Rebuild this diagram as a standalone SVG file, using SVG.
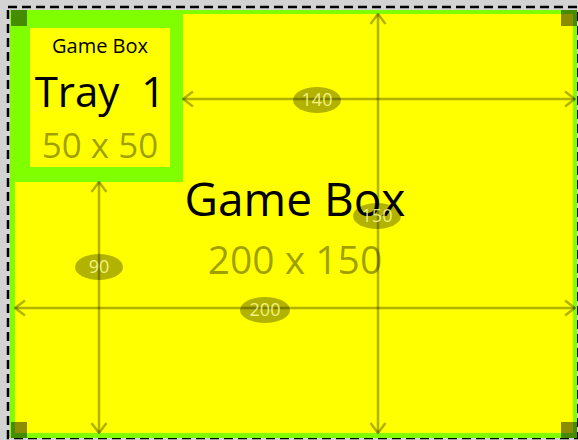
<svg xmlns="http://www.w3.org/2000/svg" width="578" height="440" viewBox="0 0 578 440">
<style>
.dim{stroke:#000;stroke-opacity:0.3;stroke-width:2.5;fill:none}
.lbl{fill:#000;fill-opacity:0.3}
.lt{font-family:"Open Sans","Noto Sans",sans-serif;font-size:18px;fill:#ffff99;fill-opacity:0.85;text-anchor:middle}
.t{font-family:"Open Sans","Noto Sans",sans-serif;text-anchor:middle}
.corner{fill:#000;fill-opacity:0.45}
</style>
<defs>
<marker id="ah" viewBox="0 0 12 18" refX="11" refY="9" markerWidth="12" markerHeight="18" markerUnits="userSpaceOnUse" orient="auto-start-reverse">
<path d="M1,1.5 L11,9 L1,16.5" fill="none" stroke="#000" stroke-opacity="0.3" stroke-width="2.5"/>
</marker>
</defs>
<rect width="578" height="440" fill="#d3d3d3"/>
<g id="gamebox">
<rect x="8" y="7" width="569" height="431" fill="none" stroke="#000" stroke-width="2.5" stroke-dasharray="9,5"/>
<rect x="10" y="10" width="567" height="428" fill="#7fff00"/>
<rect x="15" y="14" width="558" height="419" fill="#ffff00"/>
<text class="t" x="295" y="216" font-size="46" fill="#000">Game Box</text>
<text class="t" x="295" y="274" font-size="39" fill="#000" fill-opacity="0.38">200 x 150</text>
</g>
<g id="tray1">
<rect x="10" y="10" width="173" height="172" fill="#7fff00"/>
<rect x="30" y="28" width="140" height="139" fill="#ffff00"/>
<text class="t" x="100" y="53" font-size="20" fill="#000">Game Box</text>
<text class="t" x="100" y="107" font-size="42" fill="#000" xml:space="preserve">Tray  1</text>
<text class="t" x="100" y="158" font-size="35" fill="#000" fill-opacity="0.38">50 x 50</text>
</g>
<g id="corners">
<rect class="corner" x="11" y="10" width="16" height="16"/>
<rect class="corner" x="561" y="10" width="16" height="16"/>
<rect class="corner" x="11" y="422" width="16" height="16"/>
<rect class="corner" x="561" y="422" width="16" height="16"/>
</g>
<g id="connectors">
<line class="dim" x1="183" y1="99" x2="575" y2="99" marker-start="url(#ah)" marker-end="url(#ah)"/>
<line class="dim" x1="378" y1="14" x2="378" y2="433" marker-start="url(#ah)" marker-end="url(#ah)"/>
<line class="dim" x1="15" y1="308" x2="575" y2="308" marker-start="url(#ah)" marker-end="url(#ah)"/>
<line class="dim" x1="99" y1="182" x2="99" y2="433" marker-start="url(#ah)" marker-end="url(#ah)"/>
<ellipse class="lbl" cx="317" cy="100" rx="24" ry="13"/>
<text class="lt" x="317" y="106">140</text>
<ellipse class="lbl" cx="377" cy="216" rx="24" ry="13"/>
<text class="lt" x="377" y="222">150</text>
<ellipse class="lbl" cx="265" cy="310" rx="25" ry="13"/>
<text class="lt" x="265" y="316">200</text>
<ellipse class="lbl" cx="99" cy="267" rx="24" ry="13"/>
<text class="lt" x="99" y="273">90</text>
</g>
</svg>
